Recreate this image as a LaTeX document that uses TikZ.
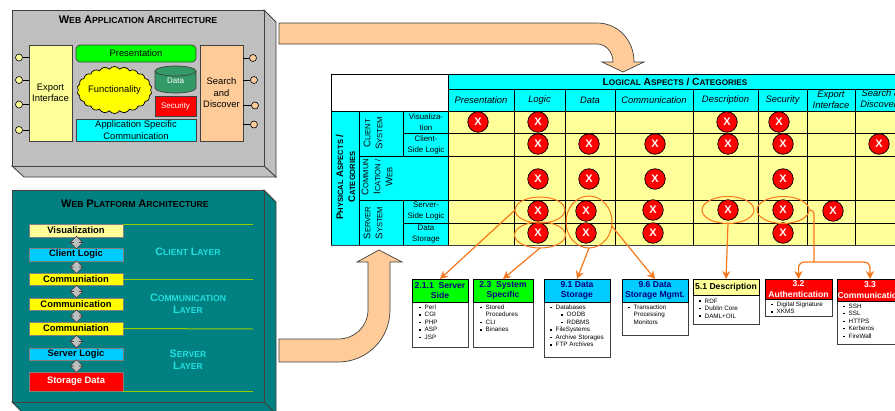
\documentclass[tikz,border=0pt]{standalone}
\usepackage{fontspec}
\setmainfont{Liberation Sans}
\usepackage{tikz}
\usetikzlibrary{arrows.meta,shapes.geometric,shapes.symbols,shapes.arrows}
\definecolor{peach}{HTML}{FFCC99}
\definecolor{pale}{HTML}{FFFF99}
\definecolor{skyb}{HTML}{00CCFF}
\definecolor{cyn}{HTML}{00FFFF}
\definecolor{yel}{HTML}{FFFF00}
\definecolor{grn}{HTML}{00FF00}
\definecolor{rd}{HTML}{FF0000}
\definecolor{teal2}{HTML}{008080}
\definecolor{seag}{HTML}{339966}
\definecolor{orng}{HTML}{F8761A}
\definecolor{olivel}{HTML}{99CC00}
\definecolor{edgeg}{HTML}{404040}
\definecolor{layerc}{HTML}{22E0E0}
\definecolor{navyt}{HTML}{000080}
\newcommand{\cp}[2]{{\fontsize{9.6}{11}\selectfont #1}{\fontsize{7.6}{11}\selectfont #2}}
\newcommand{\cq}[2]{{\fontsize{11}{11}\selectfont #1}{\fontsize{8.7}{11}\selectfont #2}}
\newcommand{\cl}[2]{{\fontsize{10.8}{13}\selectfont #1}{\fontsize{8.6}{13}\selectfont #2}}
\newcommand{\blt}{\makebox[5.5pt][l]{\raisebox{1.2pt}{\rule{1.4pt}{1.4pt}}}}
\newcommand{\sblt}{\hspace*{11pt}\blt}
\newcommand{\ind}{\hspace*{5.5pt}}
\tikzset{
	slab/.style={draw=edgeg,line width=0.8pt},
	comp/.style={draw=edgeg,line width=0.7pt,inner sep=0pt,outer sep=0pt,align=center,font=\fontsize{9.4}{11.5}\selectfont},
	lolli/.style={circle,draw=black,line width=0.6pt,minimum size=7pt,inner sep=0pt},
	tier/.style={draw=gray,line width=0.7pt,inner sep=0pt,outer sep=0pt,minimum width=94pt,font=\fontsize{9.4}{11}\selectfont\bfseries},
	flow/.style={double arrow,double arrow head extend=3pt,draw=edgeg,fill=lightgray,line width=0.4pt,inner sep=2.5pt,minimum width=12pt,minimum height=12.5pt,rotate=90},
	layer/.style={align=center,text=layerc,font=\bfseries},
	big/.style={fill=peach,draw=edgeg,line width=0.7pt},
	cell/.style={align=center,inner sep=0pt,font=\fontsize{7.9}{11}\selectfont},
	ital/.style={align=center,inner sep=0pt,font=\fontsize{9.4}{11}\selectfont\itshape},
	xdot/.style={circle,draw=black,line width=0.7pt,fill=rd,text=white,minimum size=20.5pt,inner sep=0pt,font=\fontsize{11}{11}\selectfont\bfseries},
	ring/.style={ellipse,draw=orng,line width=1pt,inner sep=0pt,outer sep=0pt},
	tie/.style={draw=orng,line width=1.2pt},
	tiea/.style={tie,-{Stealth[length=8pt,width=8pt]}},
	headb/.style={draw=black,line width=0.8pt,inner sep=0pt,outer sep=0pt,align=center,font=\fontsize{8.6}{10.5}\selectfont\bfseries},
	bodyb/.style={draw=edgeg,line width=0.8pt,fill=white,inner sep=0pt,outer sep=0pt},
	items/.style={anchor=north west,align=left,inner sep=0pt,font=\fontsize{6.3}{7.5}\selectfont}
}
\begin{document}
\begin{tikzpicture}[x=1pt,y=-1pt]
	\useasboundingbox (0,0) rectangle (895,410);

	\fill[white] (0,0) rectangle (895,410);

	\draw[slab,fill=lightgray] (264,10) -- (276,22) -- (276,177) -- (264,166) -- cycle;
	\draw[slab,fill=lightgray] (12,166) -- (24,177) -- (276,177) -- (264,166) -- cycle;
	\draw[slab,fill=lightgray] (12,10) rectangle (264,166);
	\node [inner sep=0pt,font=\bfseries] (apptitle) at (138,20) {\cq{W}{EB} \cq{A}{PPLICATION} \cq{A}{RCHITECTURE}};

	\node [comp,fill=pale,minimum width=43pt,minimum height=96pt] (export) at (50.5,93) {Export\\Interface};
	\node [comp,fill=peach,minimum width=43pt,minimum height=96pt] (search) at (221.5,93) {Search\\and\\Discover};
	\node [comp,fill=grn,minimum width=120pt,minimum height=17pt,rounded corners=4pt] (present) at (136,53.5) {Presentation};
	\node [comp,draw=black,fill=yel,cloud,cloud puffs=22,cloud puff arc=110,cloud ignores aspect,minimum width=73pt,minimum height=47pt] (funct) at (114.5,90) {Functionality};
	\draw[comp,fill=seag] (155,71) -- (155,88) arc[start angle=180,end angle=360,x radius=20.5pt,y radius=5pt] -- (196,71) arc[start angle=0,end angle=180,x radius=20.5pt,y radius=5pt] -- cycle;
	\draw[comp] (155,71) arc[start angle=180,end angle=360,x radius=20.5pt,y radius=5pt];
	\node [inner sep=0pt,text=white,font=\fontsize{8}{10}\selectfont] (data) at (175.5,81) {Data};
	\node [comp,fill=rd,text=white,minimum width=41pt,minimum height=20pt,font=\fontsize{8}{10}\selectfont] (secur) at (175.5,106) {Security};
	\node [comp,fill=cyn,minimum width=120pt,minimum height=22pt] (appcom) at (136,130) {Application Specific\\Communication};

	\node [lolli,fill=pale] (la) at (19,57.5) {};
	\node [lolli,fill=pale] (lb) at (19,80) {};
	\node [lolli,fill=pale] (lc) at (19,104.5) {};
	\node [lolli,fill=pale] (ld) at (19,130) {};
	\node [lolli,fill=peach] (ra) at (253,58) {};
	\node [lolli,fill=peach] (rb) at (254,80) {};
	\node [lolli,fill=peach] (rc) at (255,105.5) {};
	\node [lolli,fill=peach] (rd) at (254,124.5) {};

	\draw (la) -- (la -| export.west);
	\draw (lb) -- (lb -| export.west);
	\draw (lc) -- (lc -| export.west);
	\draw (ld) -- (ld -| export.west);
	\draw (ra) -- (ra -| search.east);
	\draw (rb) -- (rb -| search.east);
	\draw (rc) -- (rc -| search.east);
	\draw (rd) -- (rd -| search.east);

	\draw[slab,fill=teal2] (264,190) -- (276,202) -- (276,414) -- (264,402) -- cycle;
	\draw[slab,fill=teal2] (12,402) -- (24,414) -- (276,414) -- (264,402) -- cycle;
	\draw[slab,fill=teal2] (12,190) rectangle (264,402);
	\node [inner sep=0pt,font=\bfseries] (plattitle) at (135,204) {\cq{W}{EB} \cq{P}{LATFORM} \cq{A}{RCHITECTURE}};

	\node [tier,fill=pale,minimum height=13pt] (vis) at (76,230.5) {Visualization};
	\node [tier,fill=skyb,minimum height=13pt] (clog) at (76,254.5) {Client Logic};
	\node [tier,fill=yel,minimum height=12pt] (coma) at (76,279) {Communiation};
	\node [tier,fill=yel,minimum height=12pt] (comb) at (76,304) {Communication};
	\node [tier,fill=yel,minimum height=13pt] (comc) at (76,328.5) {Communiation};
	\node [tier,fill=skyb,minimum height=12pt] (slog) at (76,354) {Server Logic};
	\node [tier,fill=rd,text=white,minimum height=19pt] (stor) at (76,381.5) {Storage Data};

	\node [flow] (fa) at (76.5,242.5) {};
	\node [flow] (fb) at (76.5,267) {};
	\node [flow] (fc) at (76.5,291.5) {};
	\node [flow] (fd) at (76.5,316) {};
	\node [flow] (fe) at (76.5,341.5) {};
	\node [flow] (ff) at (76.5,366) {};

	\coordinate (ea) at (253,224);
	\coordinate (eb) at (253,279);
	\coordinate (ec) at (253,329);
	\coordinate (ed) at (253,391);
	\draw[olivel,line width=1pt] (vis.north east) -- (ea);
	\draw[olivel,line width=1pt] (coma.east) -- (eb);
	\draw[olivel,line width=1pt] (comc.east) -- (ec);
	\draw[olivel,line width=1pt] (stor.south east) -- (ed);

	\node [layer] (lclient) at (188,252) {\cl{C}{LIENT} \cl{L}{AYER}};
	\node [layer] (lcomm) at (188,303.5) {\cl{C}{OMMUNICATION}\\\cl{L}{AYER}};
	\node [layer] (lserv) at (188,359.5) {\cl{S}{ERVER}\\\cl{L}{AYER}};

	\draw[big] (279,23) -- (597,23) .. controls (618,23) and (634,40) .. (634,62) -- (644,62) -- (623,72) -- (602,62) -- (613,62) .. controls (613,52) and (606,44) .. (597,44) -- (279,44) -- cycle;
	\draw[big] (279,339) -- (338,339) .. controls (355,339) and (368,326) .. (368,310) -- (368,262) -- (357,262) -- (379,250) -- (402,262) -- (390,262) -- (390,310) .. controls (390,339) and (367,362) .. (338,362) -- (279,362) -- cycle;

	\fill[cyn] (448,74) rectangle (896,111);
	\fill[cyn] (331,111) rectangle (448,245);
	\fill[pale] (448,111) rectangle (896,245);
	\draw[black,line width=0.7pt] (331,74) -- (896,74);
	\draw[black,line width=0.7pt] (448,89) -- (896,89);
	\draw[black,line width=0.9pt] (331,111) -- (896,111);
	\draw[black,line width=0.7pt] (403,133) -- (896,133);
	\draw[black,line width=0.7pt] (359,156) -- (896,156);
	\draw[black,line width=0.7pt] (359,200) -- (896,200);
	\draw[black,line width=0.7pt] (403,223) -- (896,223);
	\draw[edgeg,line width=1pt] (331,245) -- (896,245);
	\draw[black,line width=0.7pt] (331,74) -- (331,245);
	\draw[black,line width=1pt] (359,111) -- (359,245);
	\draw[black,line width=0.7pt] (403,111) -- (403,156);
	\draw[black,line width=0.7pt] (403,200) -- (403,245);
	\draw[black,line width=0.9pt] (448,74) -- (448,245);
	\draw[black,line width=0.7pt] (514,89) -- (514,245);
	\draw[black,line width=0.7pt] (565,89) -- (565,245);
	\draw[black,line width=0.7pt] (615,89) -- (615,245);
	\draw[black,line width=0.7pt] (693,89) -- (693,245);
	\draw[black,line width=0.7pt] (758,89) -- (758,245);
	\draw[black,line width=0.7pt] (807,89) -- (807,245);
	\draw[black,line width=0.7pt] (855,89) -- (855,245);

	\node [inner sep=0pt,font=\bfseries] (logtitle) at (675,81.5) {{\fontsize{10.3}{11}\selectfont L}{\fontsize{8.2}{11}\selectfont OGICAL} {\fontsize{10.3}{11}\selectfont A}{\fontsize{8.2}{11}\selectfont SPECTS} / {\fontsize{10.3}{11}\selectfont C}{\fontsize{8.2}{11}\selectfont ATEGORIES}};
	\node [ital] (cpres) at (481,100) {Presentation};
	\node [ital] (clogic) at (539.5,100) {Logic};
	\node [ital] (cdata) at (590,100) {Data};
	\node [ital] (ccomm) at (654,100) {Communication};
	\node [ital] (cdesc) at (725.5,100) {Description};
	\node [ital] (csec) at (782.5,100) {Security};
	\node [ital] (cexp) at (831,100) {Export\\Interface};
	\node [ital] (csrch) at (881,100) {Search \&\\Discovery};

	\node [inner sep=0pt,rotate=90,align=center,font=\bfseries] (phys) at (345.5,177) {\cp{P}{HYSICAL} \cp{A}{SPECTS} /\\\cp{C}{ATEGORIES}};
	\node [inner sep=0pt,rotate=90,align=center] (clsys) at (373,133.5) {\cp{C}{LIENT}\\\cp{S}{YSTEM}};
	\node [inner sep=0pt,rotate=90,align=center] (cmsys) at (377,177) {\cp{C}{OMMUN}\\\cp{I}{CATION /}\\\cp{W}{EB}};
	\node [inner sep=0pt,rotate=90,align=center] (svsys) at (373,223) {\cp{S}{ERVER}\\\cp{S}{YSTEM}};
	\node [cell] (rvis) at (426,122) {Visualiza-\\tion};
	\node [cell] (rcli) at (426,144.5) {Client-\\Side Logic};
	\node [cell] (rsrv) at (426,211) {Server-\\Side Logic};
	\node [cell] (rsto) at (426,234) {Data\\Storage};

	\node [xdot] (x11) at (478,122) {X};
	\node [xdot] (x12) at (538,122) {X};
	\node [xdot] (x15) at (727,122) {X};
	\node [xdot] (x16) at (779,122) {X};
	\node [xdot] (x22) at (538,144) {X};
	\node [xdot] (x23) at (589,144) {X};
	\node [xdot] (x24) at (655,144) {X};
	\node [xdot] (x25) at (728,144) {X};
	\node [xdot] (x26) at (783,144) {X};
	\node [xdot] (x28) at (879,144) {X};
	\node [xdot] (x32) at (538,179) {X};
	\node [xdot] (x33) at (589,179) {X};
	\node [xdot] (x34) at (655,179) {X};
	\node [xdot] (x36) at (783,179) {X};
	\node [xdot] (x42) at (538,211) {X};
	\node [xdot] (x43) at (586,211) {X};
	\node [xdot] (x44) at (653,210) {X};
	\node [xdot] (x45) at (728,210) {X};
	\node [xdot] (x46) at (783,210) {X};
	\node [xdot] (x47) at (833,211) {X};
	\node [xdot] (x52) at (538,233) {X};
	\node [xdot] (x53) at (586,233) {X};
	\node [xdot] (x54) at (653,233) {X};
	\node [xdot] (x56) at (783,233) {X};

	\node [ring,minimum width=50pt,minimum height=26pt] (ringa) at (540,210) {};
	\node [ring,minimum width=51pt,minimum height=26pt] (ringb) at (540,235) {};
	\node [ring,minimum width=46pt,minimum height=52pt] (ringc) at (589,222) {};
	\node [ring,minimum width=52pt,minimum height=27pt] (ringd) at (728,210) {};
	\node [ring,minimum width=52pt,minimum height=27pt] (ringe) at (783,210) {};

	\node [bodyb,minimum width=56pt,minimum height=45pt] (b211) at (440,324.5) {};
	\node [headb,fill=grn,text=navyt,minimum width=56pt,minimum height=23pt] (h211) at (440,290.5) {2.1.1\ \ Server\\Side};
	\node [items] (t211) at (419,304.5) {\blt Perl\\\blt CGI\\\blt PHP\\\blt ASP\\\blt JSP};

	\node [bodyb,minimum width=60pt,minimum height=45pt] (b23) at (503,324.5) {};
	\node [headb,fill=grn,text=navyt,minimum width=60pt,minimum height=23pt] (h23) at (503,290.5) {2.3\ \ System\\Specific};
	\node [items] (t23) at (480,304.5) {\blt Stored\\\ind Procedures\\\blt CLI\\\blt Binaries};

	\node [bodyb,minimum width=66pt,minimum height=55pt] (b91) at (577,329.5) {};
	\node [headb,fill=skyb,text=navyt,minimum width=66pt,minimum height=23pt] (h91) at (577,290.5) {9.1 Data\\Storage};
	\node [items] (t91) at (550,304.5) {\blt Databases\\\sblt OODB\\\sblt RDBMS\\\blt FileSystems\\\blt Archive Storages\\\blt FTP Archives};

	\node [bodyb,minimum width=66pt,minimum height=33pt] (b96) at (655,318.5) {};
	\node [headb,fill=skyb,text=navyt,minimum width=66pt,minimum height=23pt] (h96) at (655,290.5) {9.6 Data\\Storage Mgmt.};
	\node [items] (t96) at (628,304.5) {\blt Transaction\\\ind Processing\\\ind Monitors};

	\node [bodyb,minimum width=66pt,minimum height=29pt] (b51) at (726,309.5) {};
	\node [headb,fill=pale,text=black,minimum width=66pt,minimum height=16pt] (h51) at (726,287) {5.1 Description};
	\node [items] (t51) at (699,298.5) {\blt RDF\\\blt Dublin Core\\\blt DAML+OIL};

	\node [bodyb,minimum width=67pt,minimum height=17pt] (b32) at (798.5,307.5) {};
	\node [headb,fill=rd,text=white,minimum width=67pt,minimum height=20pt] (h32) at (798.5,289) {3.2\\Authentication};
	\node [items] (t32) at (771,301.5) {\blt Digital Signature\\\blt XKMS};

	\node [bodyb,minimum width=66pt,minimum height=43pt] (b33) at (870,322.5) {};
	\node [headb,fill=rd,text=white,minimum width=66pt,minimum height=22pt] (h33) at (870,290) {3.3\\Communication};
	\node [items] (t33) at (843,303.5) {\blt SSH\\\blt SSL\\\blt HTTPS\\\blt Kerberos\\\blt FireWall};

	\draw[tiea] (ringa.west) -- (h211.north);
	\draw[tiea] (ringb.south) -- (h23.north);
	\draw[tiea] (ringc.south) -- (h91.north);
	\draw[tiea] (ringc.-10) -- (h96.north);
	\draw[tiea] (ringd.south) -- (h51.north);

	\coordinate (fork) at (814,262);
	\draw[tie,rounded corners=4pt] (ringe.east) -| (fork);
	\draw[tiea,rounded corners=6pt] (fork) -| (h32.north);
	\draw[tiea,rounded corners=6pt] (fork) -| (h33.north);
\end{tikzpicture}
\end{document}
